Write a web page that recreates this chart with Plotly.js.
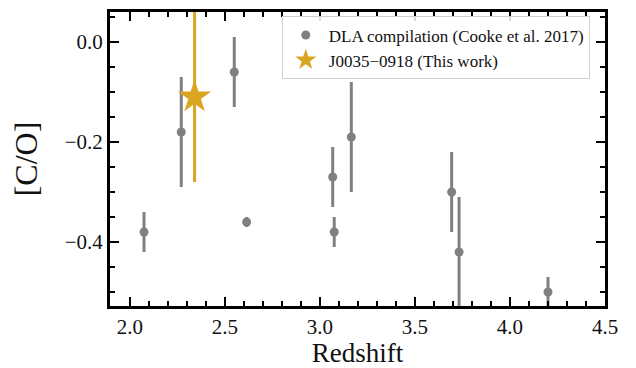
<!DOCTYPE html>
<html>
<head>
<meta charset="utf-8">
<script src="https://cdn.plot.ly/plotly-3.0.1.min.js"></script>
<style>html,body{margin:0;padding:0;background:#fff;}#chart{width:636px;height:368px;}</style>
</head>
<body>
<div id="chart"></div>
<script>
// DLA compilation (Cooke et al. 2017)
const dlaZ   = [2.074, 2.27, 2.549, 2.614, 3.067, 3.075, 3.165, 3.693, 3.732, 4.20];
const dlaCO  = [-0.38, -0.18, -0.06, -0.36, -0.27, -0.38, -0.19, -0.30, -0.42, -0.50];
const dlaErr = [0.04, 0.11, 0.07, 0.01, 0.06, 0.03, 0.11, 0.08, 0.11, 0.03];
// This work
const thisZ   = [2.34];
const thisCO  = [-0.11];
const thisErr = [0.17];

const xTicks = [2.0, 2.5, 3.0, 3.5, 4.0, 4.5];
const xTickText = ['2.0', '2.5', '3.0', '3.5', '4.0', '4.5'];
const yTicks = [0.0, -0.2, -0.4];
const yTickText = ['0.0', '\u22120.2', '\u22120.4'];

const font = '"Liberation Serif", "DejaVu Serif", serif';
const gray = '#808080';
const gold = '#DAA520';

const traces = [
  {
    x: dlaZ, y: dlaCO, type: 'scatter', mode: 'markers',
    name: 'DLA compilation (Cooke et al. 2017)',
    marker: {color: gray, size: 9},
    error_y: {type: 'data', array: dlaErr, visible: true, color: gray, thickness: 3, width: 0}
  },
  {
    x: thisZ, y: thisCO, type: 'scatter', mode: 'markers',
    name: 'J0035\u22120918 (This work)',
    marker: {color: gold, size: 25, symbol: 'star'},
    error_y: {type: 'data', array: thisErr, visible: true, color: gold, thickness: 3, width: 0}
  }
];

const axisCommon = {
  showgrid: false, zeroline: false, showline: true, linecolor: '#000', linewidth: 3,
  mirror: 'allticks', ticks: 'inside', ticklen: 9, tickwidth: 2, tickcolor: '#000',
  tickfont: {family: font, size: 21, color: '#111'}
};

const layout = {
  width: 636, height: 368,
  margin: {l: 110, r: 31, t: 12, b: 62},
  paper_bgcolor: '#fff', plot_bgcolor: '#fff',
  showlegend: true,
  legend: {
    x: 0.347, y: 0.985, xanchor: 'left', yanchor: 'top',
    bgcolor: 'rgba(255,255,255,0.85)', bordercolor: '#d0d0d0', borderwidth: 1,
    font: {family: font, size: 17, color: '#111'},
    itemsizing: 'trace', itemwidth: 36, tracegroupgap: 0
  },
  xaxis: Object.assign({}, axisCommon, {
    range: [1.895, 4.5],
    tickvals: xTicks, ticktext: xTickText,
    minor: {dtick: 0.1, tick0: 2.0, ticks: 'inside', ticklen: 5, tickwidth: 2, tickcolor: '#000'},
    title: {text: 'Redshift', font: {family: font, size: 27, color: '#111'}, standoff: 6}
  }),
  yaxis: Object.assign({}, axisCommon, {
    range: [-0.528, 0.06],
    tickvals: yTicks, ticktext: yTickText,
    minor: {dtick: 0.05, tick0: 0, ticks: 'inside', ticklen: 5, tickwidth: 2, tickcolor: '#000'},
    title: {text: '[C/O]', font: {family: font, size: 32, color: '#111'}, standoff: 18}
  })
};

Plotly.newPlot('chart', traces, layout, {displayModeBar: false, staticPlot: true});
</script>
</body>
</html>
